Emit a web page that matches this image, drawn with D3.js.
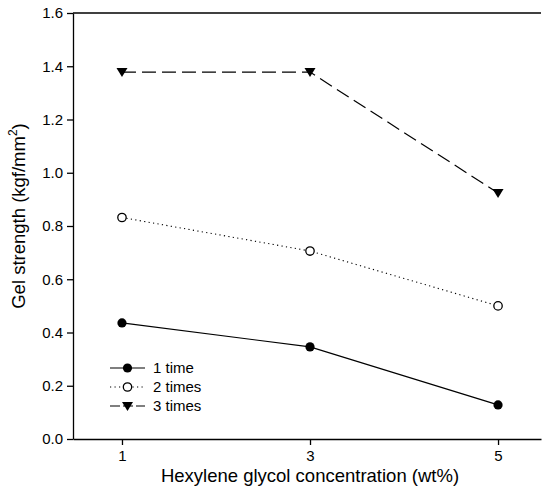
<!DOCTYPE html>
<html><head><meta charset="utf-8">
<script src="https://cdn.jsdelivr.net/npm/d3@7"></script>
<style>body{margin:0;background:#fff;} text{font-family:"Liberation Sans",Arial,sans-serif;}</style>
</head><body>
<svg id="c" width="542" height="492"></svg>
<script>
const concentrations = [1, 3, 5];
const seriesNames = ["1 time", "2 times", "3 times"];
const values1 = [0.436, 0.346, 0.128];
const values2 = [0.832, 0.706, 0.500];
const values3 = [1.378, 1.378, 0.924];
const yTicks = [0.0, 0.2, 0.4, 0.6, 0.8, 1.0, 1.2, 1.4, 1.6];
const xTicks = [1, 3, 5];

const svg = d3.select("#c");
const x = d3.scaleLinear().domain([0.479, 5.457]).range([73, 541]);
const y = d3.scaleLinear().domain([0, 1.6]).range([439, 13]);

// axes
const xAxis = d3.axisBottom(x).tickValues(xTicks).tickFormat(d3.format("d")).tickSize(6).tickSizeOuter(0).tickPadding(5);
const gx = svg.append("g").attr("transform", "translate(0,439)").call(xAxis);
const yAxis = d3.axisLeft(y).tickValues(yTicks).tickFormat(d3.format(".1f")).tickSize(6).tickSizeOuter(0).tickPadding(4);
const gy = svg.append("g").attr("transform", "translate(73,0)").call(yAxis);
[gx, gy].forEach(g => {
  g.selectAll("path,line").attr("stroke", "#000").attr("stroke-width", 1.3);
  g.selectAll("text").attr("font-size", 15).attr("fill", "#000");
});
// top frame
svg.append("line").attr("x1", 73).attr("x2", 541).attr("y1", y(1.6)).attr("y2", y(1.6)).attr("stroke", "#000").attr("stroke-width", 1.3);

// labels
svg.append("text").attr("x", x(3)).attr("y", 482).attr("text-anchor", "middle")
  .attr("font-size", 18.5).text("Hexylene glycol concentration (wt%)");
const yl = svg.append("text").attr("transform", "translate(25,216) rotate(-90)").attr("text-anchor", "middle").attr("font-size", 18.5);
yl.append("tspan").text("Gel strength (kgf/mm");
yl.append("tspan").attr("dy", -8).attr("font-size", 12).text("2");
yl.append("tspan").attr("dy", 8).text(")");

const series = [
  {name: seriesNames[0], vals: values1, dash: null, sym: "circleFilled"},
  {name: seriesNames[1], vals: values2, dash: "1.2,3.3", sym: "circleOpen"},
  {name: seriesNames[2], vals: values3, dash: "14,6", sym: "triangle"}
];
const line = d3.line().x(d => x(d[0])).y(d => y(d[1]));

function drawSym(g, s, cx, cy) {
  if (s.sym === "circleFilled") {
    g.append("circle").attr("cx", cx).attr("cy", cy).attr("r", 4.6).attr("fill", "#000");
  } else if (s.sym === "circleOpen") {
    g.append("circle").attr("cx", cx).attr("cy", cy).attr("r", 4.2).attr("fill", "#fff").attr("stroke", "#000").attr("stroke-width", 1.3);
  } else {
    g.append("path").attr("d", `M${cx - 5.5},${cy - 4} L${cx + 5.5},${cy - 4} L${cx},${cy + 5} Z`).attr("fill", "#000");
  }
}

series.forEach(s => {
  const pts = concentrations.map((c, i) => [c, s.vals[i]]);
  svg.append("path").datum(pts).attr("d", line).attr("fill", "none").attr("stroke", "#000")
    .attr("stroke-width", s.sym === "circleOpen" ? 1.1 : 1.2).attr("stroke-dasharray", s.dash);
  const g = svg.append("g");
  pts.forEach(p => drawSym(g, s, x(p[0]), y(p[1])));
});

// legend
const legY = [368, 387, 406];
series.forEach((s, i) => {
  const g = svg.append("g");
  g.append("line").attr("x1", 110).attr("x2", 145).attr("y1", legY[i]).attr("y2", legY[i])
    .attr("stroke", "#000").attr("stroke-width", 1.2).attr("stroke-dasharray", s.dash ? (s.sym === "circleOpen" ? "1.2,3.3" : "10,3") : null);
  drawSym(g, s, 127.5, legY[i]);
  g.append("text").attr("x", 153).attr("y", legY[i] + 5).attr("font-size", 15).text(s.name);
});
</script>
</body></html>
